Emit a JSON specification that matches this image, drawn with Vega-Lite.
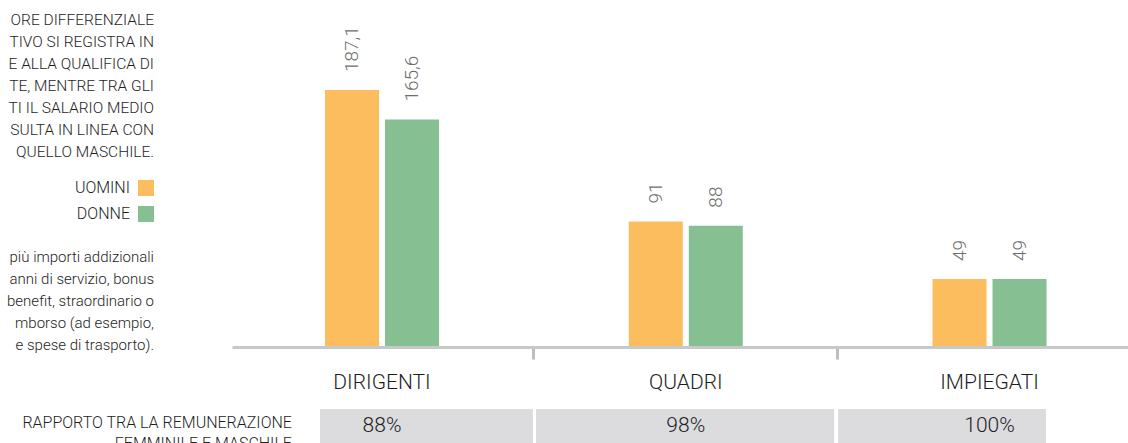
{
  "$schema": "https://vega.github.io/schema/vega-lite/v6.json",
  "padding": 0,
  "background": "#ffffff",
  "bounds": "flush",
  "spacing": 78,
  "config": {
    "view": {"stroke": null},
    "font": "Roboto",
    "locale": {"number": {"decimal": ",", "thousands": ".", "grouping": [3], "currency": ["", " €"]}}
  },
  "datasets": {
    "bars": [
      {"cat": "DIRIGENTI", "sex": "UOMINI", "value": 187.1},
      {"cat": "DIRIGENTI", "sex": "DONNE", "value": 165.6},
      {"cat": "QUADRI", "sex": "UOMINI", "value": 91},
      {"cat": "QUADRI", "sex": "DONNE", "value": 88},
      {"cat": "IMPIEGATI", "sex": "UOMINI", "value": 49},
      {"cat": "IMPIEGATI", "sex": "DONNE", "value": 49}
    ],
    "ratios": [
      {"cat": "DIRIGENTI", "ratio": 0.88},
      {"cat": "QUADRI", "ratio": 0.98},
      {"cat": "IMPIEGATI", "ratio": 1.0}
    ],
    "notes": [
      {"group": "intro", "line": 0, "text": "ORE DIFFERENZIALE"},
      {"group": "intro", "line": 1, "text": "TIVO SI REGISTRA IN"},
      {"group": "intro", "line": 2, "text": "E ALLA QUALIFICA DI"},
      {"group": "intro", "line": 3, "text": "TE, MENTRE TRA  GLI"},
      {"group": "intro", "line": 4, "text": "TI IL SALARIO MEDIO"},
      {"group": "intro", "line": 5, "text": "SULTA IN LINEA CON"},
      {"group": "intro", "line": 6, "text": "QUELLO MASCHILE."},
      {"group": "note", "line": 11, "text": "più importi addizionali"},
      {"group": "note", "line": 12, "text": "anni di servizio, bonus"},
      {"group": "note", "line": 13, "text": "benefit, straordinario o"},
      {"group": "note", "line": 14, "text": "mborso (ad esempio,"},
      {"group": "note", "line": 15, "text": "e spese di trasporto)."}
    ]
  },
  "hconcat": [
    {
      "width": 154,
      "height": 370,
      "data": {"name": "notes"},
      "layer": [
        {
          "transform": [{"filter": "datum.group === 'intro'"}],
          "mark": {"type": "text", "align": "right", "baseline": "middle", "fontSize": 15.5, "fontWeight": 300, "color": "#1e1e1e", "clip": true},
          "encoding": {
            "x": {"value": "width"},
            "y": {"field": "line", "type": "quantitative", "scale": {"domain": [-0.909, 15.909], "reverse": true, "zero": false, "nice": false}, "axis": null},
            "text": {"field": "text"}
          }
        },
        {
          "transform": [{"filter": "datum.group === 'note'"}],
          "mark": {"type": "text", "align": "right", "baseline": "middle", "fontSize": 15, "fontWeight": 300, "color": "#1e1e1e", "clip": true, "dy": -5},
          "encoding": {
            "x": {"value": "width"},
            "y": {"field": "line", "type": "quantitative", "scale": {"domain": [-0.909, 15.909], "reverse": true, "zero": false, "nice": false}, "axis": null},
            "text": {"field": "text"}
          }
        }
      ]
    },
    {
      "spacing": 63,
      "bounds": "flush",
      "resolve": {"scale": {"color": "independent"}, "legend": {"color": "independent"}},
      "vconcat": [
        {
          "width": 896,
          "height": 346,
          "data": {"name": "bars"},
          "encoding": {
            "x": {
              "field": "cat", "type": "nominal",
              "scale": {"domain": ["DIRIGENTI", "QUADRI", "IMPIEGATI"], "paddingInner": 0.2296, "paddingOuter": 0.0897, "align": 0.606},
              "axis": {
                "title": null, "grid": false, "labelAngle": 0,
                "domainColor": "#c8c8c8", "domainWidth": 3, "offset": 1,
                "bandPosition": -0.149, "tickExtra": false,
                "tickColor": "#bdbdbd", "tickWidth": 3, "tickSize": 12,
                "tickOpacity": {"condition": {"test": "datum.value === 'DIRIGENTI'", "value": 0}, "value": 1},
                "labelFontSize": 21, "labelFont": "Roboto", "labelFontWeight": 300, "labelColor": "#1e1e1e", "labelPadding": 12
              }
            },
            "xOffset": {"field": "sex", "type": "nominal", "scale": {"domain": ["UOMINI", "DONNE"], "paddingInner": 0.1, "paddingOuter": 1}},
            "y": {"field": "value", "type": "quantitative", "scale": {"domain": [0, 253], "nice": false}, "axis": null}
          },
          "layer": [
            {
              "mark": {"type": "bar"},
              "encoding": {
                "color": {
                  "field": "sex", "type": "nominal",
                  "scale": {"domain": ["UOMINI", "DONNE"], "range": ["#fcbd5f", "#86bf91"]},
                  "legend": {
                    "orient": "none", "legendX": -94, "legendY": 180, "title": null,
                    "symbolType": "square", "symbolSize": 256, "symbolStrokeWidth": 0, "symbolOpacity": 1,
                    "labelFontSize": 16, "labelFont": "Roboto", "labelFontWeight": 300, "labelColor": "#1e1e1e",
                    "labelAlign": "right", "labelOffset": -24, "labelBaseline": "middle",
                    "rowPadding": 10, "padding": 0
                  }
                }
              }
            },
            {
              "mark": {"type": "text", "angle": 270, "align": "left", "baseline": "middle", "dx": 18, "fontSize": 19, "font": "Roboto", "fontWeight": 300, "color": "#6e6e6e"},
              "encoding": {"text": {"field": "value", "type": "quantitative", "format": ".1~f"}}
            }
          ]
        },
        {
          "width": 896,
          "height": 34,
          "data": {"name": "ratios"},
          "layer": [
            {
              "transform": [{"filter": "datum.cat === 'DIRIGENTI'"}],
              "mark": {"type": "rect", "color": "#dcdcde"},
              "encoding": {
                "x": {"field": "cat", "type": "nominal", "bandPosition": 0.235, "scale": {"domain": ["DIRIGENTI", "QUADRI", "IMPIEGATI"], "paddingInner": 0.2296, "paddingOuter": 0.0897, "align": 0.606}, "axis": null},
                "x2": {"field": "cat", "bandPosition": 1.145}
              }
            },
            {
              "transform": [{"filter": "datum.cat === 'QUADRI'"}],
              "mark": {"type": "rect", "color": "#dcdcde"},
              "encoding": {
                "x": {"field": "cat", "type": "nominal", "bandPosition": -0.14, "scale": {"domain": ["DIRIGENTI", "QUADRI", "IMPIEGATI"], "paddingInner": 0.2296, "paddingOuter": 0.0897, "align": 0.606}, "axis": null},
                "x2": {"field": "cat", "bandPosition": 1.134}
              }
            },
            {
              "transform": [{"filter": "datum.cat === 'IMPIEGATI'"}],
              "mark": {"type": "rect", "color": "#dcdcde"},
              "encoding": {
                "x": {"field": "cat", "type": "nominal", "bandPosition": -0.147, "scale": {"domain": ["DIRIGENTI", "QUADRI", "IMPIEGATI"], "paddingInner": 0.2296, "paddingOuter": 0.0897, "align": 0.606}, "axis": null},
                "x2": {"field": "cat", "bandPosition": 0.741}
              }
            },
            {
              "mark": {"type": "text", "baseline": "middle", "fontSize": 21, "fontWeight": 300, "color": "#1e1e1e"},
              "encoding": {
                "x": {"field": "cat", "type": "nominal", "scale": {"domain": ["DIRIGENTI", "QUADRI", "IMPIEGATI"], "paddingInner": 0.2296, "paddingOuter": 0.0897, "align": 0.606}, "axis": null},
                "text": {"field": "ratio", "type": "quantitative", "format": ".0%"}
              }
            },
            {
              "transform": [{"filter": "datum.cat === 'DIRIGENTI'"}],
              "mark": {"type": "text", "align": "right", "baseline": "middle", "fontSize": 16, "fontWeight": 300, "color": "#1e1e1e", "lineBreak": "\n", "lineHeight": 21, "dy": -3},
              "encoding": {
                "x": {"field": "cat", "type": "nominal", "bandPosition": 0.115, "scale": {"domain": ["DIRIGENTI", "QUADRI", "IMPIEGATI"], "paddingInner": 0.2296, "paddingOuter": 0.0897, "align": 0.606}, "axis": null},
                "text": {"value": "RAPPORTO TRA LA REMUNERAZIONE\nFEMMINILE E MASCHILE"}
              }
            }
          ]
        }
      ]
    }
  ],
  "resolve": {"scale": {"color": "independent"}, "legend": {"color": "independent"}}
}
